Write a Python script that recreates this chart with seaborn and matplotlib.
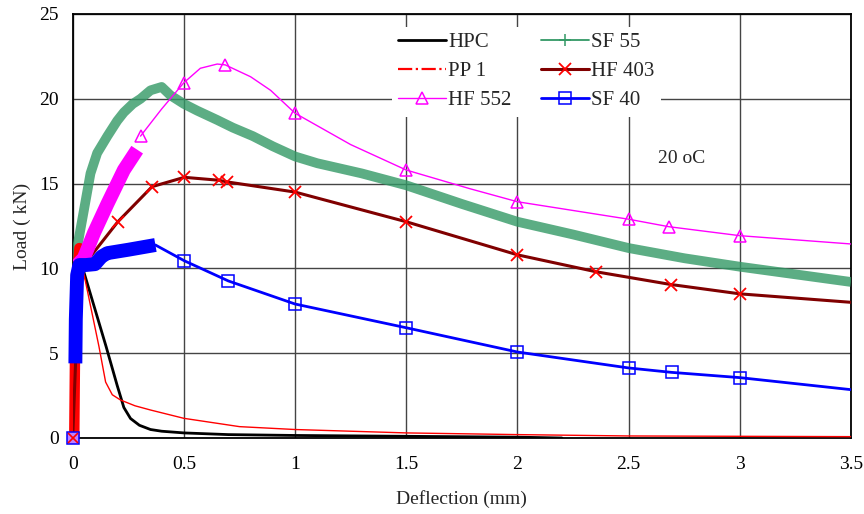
import numpy as np
import matplotlib
matplotlib.use('Agg')
import matplotlib.pyplot as plt
from matplotlib.lines import Line2D
import seaborn as sns

sns.set_style('white')
plt.rcParams['font.family'] = ['Liberation Serif', 'DejaVu Serif']
plt.rcParams['mathtext.fontset'] = 'dejavuserif'

# ---- data (deflection mm, load kN) ----
# HPC
hpc_x = [0, 0.01, 0.02, 0.03, 0.05, 0.1, 0.15, 0.2, 0.23, 0.26, 0.3, 0.35, 0.4, 0.5, 0.7, 1.0, 1.5, 2.0, 2.2]
hpc_y = [0, 3.5, 7.5, 10.2, 9.8, 7.6, 5.4, 3.1, 1.8, 1.15, 0.75, 0.5, 0.4, 0.3, 0.2, 0.15, 0.1, 0.05, 0.0]

# PP 1 (dense start + thin tail)
pp1_dense_x = [0.007, 0.01, 0.02, 0.03, 0.05]
pp1_dense_y = [0, 4.4, 9.5, 11.2, 10.6]
pp1_x = [0.05, 0.08, 0.118, 0.148, 0.178, 0.215, 0.28, 0.35, 0.5, 0.75, 1.0, 1.5, 2.0, 2.5, 3.0, 3.5]
pp1_y = [9.7, 7.8, 5.4, 3.3, 2.55, 2.24, 1.9, 1.65, 1.16, 0.67, 0.5, 0.3, 0.2, 0.12, 0.1, 0.08]

# SF 55 (dense markers along whole curve)
sf55_x = [0, 0.01, 0.021, 0.05, 0.08, 0.11, 0.156, 0.2, 0.23, 0.27, 0.305, 0.35, 0.4, 0.44, 0.5, 0.56, 0.65,
          0.72, 0.81, 0.9, 1.0, 1.1, 1.2, 1.3, 1.5, 1.75, 2.0, 2.25, 2.5, 2.75, 3.0, 3.25, 3.5]
sf55_y = [0, 6.0, 11.3, 13.4, 15.6, 16.8, 17.8, 18.7, 19.2, 19.7, 20.0, 20.5, 20.7, 20.2, 19.7, 19.3, 18.75,
          18.3, 17.8, 17.2, 16.6, 16.2, 15.9, 15.6, 14.9, 13.8, 12.75, 12.0, 11.2, 10.6, 10.1, 9.65, 9.2]

# HF 403
hf403_x = [0, 0.03, 0.08, 0.203, 0.357, 0.502, 0.656, 0.694, 1.0, 1.5, 2.0, 2.354, 2.69, 3.0, 3.5]
hf403_y = [0, 10.3, 10.7, 12.75, 14.82, 15.37, 15.2, 15.1, 14.5, 12.75, 10.8, 9.8, 9.05, 8.5, 8.0]
hf403_marks = [0, 3, 4, 5, 6, 7, 8, 9, 10, 11, 12, 13]

# HF 552 (thin rise, dense band, smooth tail)
hf552_rise_x = [0, 0.004, 0.02]
hf552_rise_y = [0, 8.0, 10.2]
hf552_dense_x = [0.02, 0.05, 0.096, 0.156, 0.23, 0.29]
hf552_dense_y = [10.2, 10.6, 12.1, 13.8, 15.8, 17.0]
hf552_x = [0.305, 0.4, 0.5, 0.574, 0.65, 0.686, 0.8, 0.89, 1.0, 1.25, 1.5, 1.786, 2.0, 2.5, 2.68, 3.0, 3.5]
hf552_y = [17.8, 19.4, 20.95, 21.8, 22.05, 22.0, 21.3, 20.5, 19.15, 17.3, 15.8, 14.7, 13.93, 12.9, 12.46, 11.93, 11.44]
hf552_marks = [0, 2, 5, 8, 10, 12, 13, 14, 15]

# SF 40 (dense start + tail)
sf40_rise_x = [0, 0.012]
sf40_rise_y = [0, 4.4]
sf40_dense_x = [0.012, 0.014, 0.02, 0.03, 0.06, 0.1, 0.13, 0.156, 0.25, 0.372]
sf40_dense_y = [4.4, 7.0, 9.6, 10.2, 10.2, 10.25, 10.7, 10.9, 11.1, 11.38]
sf40_x = [0.372, 0.502, 0.70, 1.0, 1.5, 2.0, 2.5, 2.693, 3.0, 3.5]
sf40_y = [11.38, 10.45, 9.26, 7.9, 6.5, 5.07, 4.13, 3.87, 3.56, 2.85]
sf40_marks = [1, 2, 3, 4, 5, 6, 7, 8]

x_ticks = [0, 0.5, 1, 1.5, 2, 2.5, 3, 3.5]
x_tick_labels = ['0', '0.5', '1', '1.5', '2', '2.5', '3', '3.5']
y_ticks = [0, 5, 10, 15, 20, 25]

labels = ['HPC', 'PP 1', 'HF 552', 'SF 55', 'HF 403', 'SF 40']

c_hpc = 'black'
c_pp1 = '#ff0000'
c_hf552 = '#ff00ff'
c_sf55 = '#339966'
c_hf403 = '#800000'
c_sf40 = '#0000ff'

fig = plt.figure(figsize=(8.64, 5.14), dpi=100)
ax = fig.add_axes([72.7 / 864, 76 / 514, 778.3 / 864, 424 / 514])

def line(x, y, **kw):
    sns.lineplot(x=x, y=y, ax=ax, estimator=None, sort=False, **kw)

# thin initial rises sit underneath the dense bands
line(hf552_rise_x, hf552_rise_y, color=c_hf552, lw=1.2)
line(sf40_rise_x, sf40_rise_y, color=c_sf40, lw=2)

# draw order as in the original workbook
line(hpc_x, hpc_y, color=c_hpc, lw=2.0)
line(sf55_x, sf55_y, color=c_sf55, lw=7, alpha=0.8, solid_capstyle='butt')
line(pp1_dense_x, pp1_dense_y, color=c_pp1, lw=7.5, solid_capstyle='butt', clip_on=False)
line(pp1_x, pp1_y, color=c_pp1, lw=1.0)
line(hf403_x, hf403_y, color=c_hf403, lw=2.2, marker='x', ms=9, mew=1.3,
     mec='#ff0000', markevery=hf403_marks)
line(hf552_dense_x, hf552_dense_y, color=c_hf552, lw=10, solid_capstyle='butt')
line(hf552_x, hf552_y, color=c_hf552, lw=1.0, marker='^', ms=8, mfc='none', mew=1.1,
     mec=c_hf552, markevery=hf552_marks)
line(sf40_dense_x, sf40_dense_y, color=c_sf40, lw=10, solid_capstyle='butt', clip_on=False)
line(sf40_x, sf40_y, color=c_sf40, lw=2.0, marker='s', ms=8, mfc='none', mew=1.1,
     mec=c_sf40, markevery=sf40_marks)
# stacked markers at the origin
ax.plot([0], [0], marker='s', ms=8, mfc='#c080ff', mec=c_sf40, mew=1.1, ls='none', clip_on=False)
ax.plot([0], [0], marker='x', ms=7, mec='#ff0000', mew=1.2, ls='none', clip_on=False)

ax.set_xlim(0, 3.5)
ax.set_ylim(0, 25)
ax.set_xticks(x_ticks)
ax.set_xticklabels(x_tick_labels)
ax.set_yticks(y_ticks)
ax.grid(True, color='#444444', lw=1.0)
ax.set_axisbelow(True)
for s in ax.spines.values():
    s.set_color('black')
    s.set_linewidth(1.3)
    s.set_zorder(1.5)
ax.tick_params(axis='both', length=0, labelsize=14, colors='black')
ax.tick_params(axis='x', pad=13)
ax.tick_params(axis='y', pad=10)
ax.set_xlabel('Deflection (mm)', fontsize=14, labelpad=12)
ax.set_ylabel('Load ( kN)', fontsize=14, labelpad=6)

ax.text(2.74, 16.5, '20 oC', fontsize=14, ha='center', va='center')

handles = [
    Line2D([], [], color=c_hpc, lw=2),
    Line2D([], [], color=c_pp1, lw=1.6, ls='-.'),
    Line2D([], [], color=c_hf552, lw=1.0, marker='^', ms=8, mfc='none', mew=1.1),
    Line2D([], [], color=c_sf55, lw=1.3, marker='+', ms=9, mew=1.1),
    Line2D([], [], color=c_hf403, lw=2.2, marker='x', ms=9, mew=1.3, mec='#ff0000'),
    Line2D([], [], color=c_sf40, lw=2.0, marker='s', ms=8, mfc='none', mew=1.1),
]
leg = ax.legend(handles, labels, ncol=2, loc='upper left', bbox_to_anchor=(0.397, 0.995),
                fontsize=15, frameon=True, framealpha=1, facecolor='white', edgecolor='none',
                handlelength=2.3, handletextpad=0.1, columnspacing=1.4, labelspacing=0.45,
                borderpad=0.3, fancybox=False)

fig.savefig('out.png', dpi=100)
